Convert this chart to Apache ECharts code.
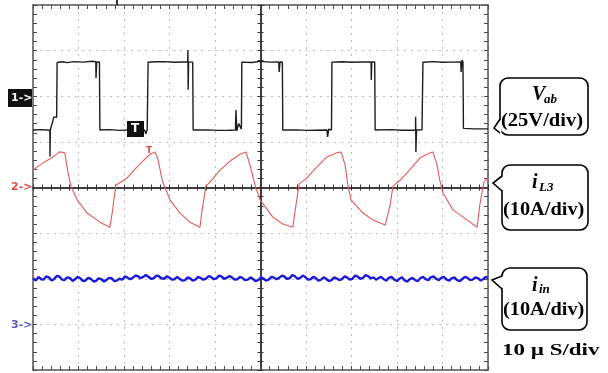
<!DOCTYPE html>
<html>
<head>
<meta charset="utf-8">
<style>
  html, body { margin: 0; padding: 0; background: #fff; }
  #chart { width: 608px; height: 373px; }
</style>
<script src="https://cdn.jsdelivr.net/npm/echarts@6/dist/echarts.min.js"></script>
</head>
<body>
<div id="chart"></div>
<script>
// time in us (10 us/div), channel values in physical units
// CH1 Vab [t, V]  (25 V/div, ground marker at +2 div)
var vab = [
  [0, -18.5], [2.0, -18.3], [3.7, -18.6], [3.75, -33.0], [3.8, -18.5], [4.6, -11.3], [5.2, -11.5],
  [5.3, 18.5], [6.5, 18.9], [7.5, 18.4], [9.0, 19.0], [11.0, 18.7], [13.0, 19.2], [13.8, 18.9],
  [13.85, 10.0], [14.0, 18.8], [14.6, 18.8],
  [14.7, -18.5], [17.0, -18.3], [19.0, -18.7], [21.0, -18.4], [24.5, -18.5], [24.8, -20.5], [25.1, -18.4],
  [25.3, 18.6], [27.0, 18.9], [29.0, 19.0], [31.0, 18.6], [33.0, 18.8], [34.0, 18.9],
  [34.05, 25.4], [34.1, 3.5], [34.2, 18.8], [35.1, 18.7],
  [35.2, -18.5], [38.0, -18.4], [41.0, -18.7], [43.0, -18.6], [44.5, -18.5],
  [44.6, -7.5], [44.8, -19.0], [45.2, -15.0], [45.8, -18.0],
  [45.9, 18.7], [48.0, 18.5], [50.0, 19.1], [52.0, 18.7], [54.0, 18.8],
  [54.1, 13.3], [54.3, 18.8], [54.8, 18.8],
  [54.9, -18.5], [58.0, -18.4], [60.0, -18.7], [62.0, -18.6], [64.6, -18.5], [64.75, -22.3], [65.0, -18.0], [65.6, -18.5],
  [65.7, 18.7], [68.0, 18.9], [70.0, 18.6], [72.0, 18.8], [74.3, 18.8],
  [74.35, 8.9], [74.45, 18.8], [75.1, 18.8],
  [75.2, -18.5], [79.0, -18.3], [81.0, -18.6], [83.0, -18.6], [84.07, -18.5], [84.1, -11.3], [84.15, -30.5], [84.3, -18.5], [85.5, -18.4],
  [85.7, 18.6], [88.0, 19.0], [90.0, 18.6], [92.0, 18.7], [94.0, 18.8],
  [94.1, 13.3], [94.3, 19.9], [94.5, 18.8],
  [94.6, -17.6], [97.0, -17.9], [100, -17.9]
];

// CH2 iL3 [t, A]  (10 A/div, ground marker at 0 div)
var iL3 = [
  [0, 3.8], [2.2, 5.4], [4.4, 6.7], [5.9, 7.8], [7.0, 7.6], [7.7, 3.2], [8.4, 0.1], [9.7, -2.7],
  [11.9, -5.6], [14.7, -7.6], [16.9, -8.7], [17.4, -5.6], [18.2, 0.5], [19.3, 1.2], [20.7, 2.1],
  [22.0, 3.6], [24.0, 5.6], [25.7, 7.3], [26.8, 7.8], [27.5, 6.0], [28.4, 1.6], [29.2, -0.5],
  [30.1, -2.7], [32.3, -5.6], [34.5, -7.6], [36.7, -8.7], [37.1, -5.4], [38.0, 0.3], [39.3, 1.6],
  [41.1, 3.8], [43.3, 5.8], [45.5, 7.3], [46.8, 7.8], [47.7, 4.9], [48.8, 0.5], [49.9, -2.7],
  [52.7, -6.5], [54.9, -8.0], [57.1, -8.7], [57.8, -3.8], [58.5, 0.8], [60.2, 2.1], [62.4, 4.5],
  [64.6, 6.7], [66.8, 7.6], [67.7, 7.8], [68.6, 4.9], [69.2, 0.5], [69.9, -2.7], [72.5, -5.6],
  [74.7, -7.1], [77.4, -8.2], [77.8, -8.4], [78.5, -3.8], [79.1, 0.3], [80.7, 1.6], [82.2, 3.2],
  [85.1, 6.5], [87.3, 7.6], [87.9, 7.8], [88.8, 4.9], [89.4, 1.6], [90.1, -1.2], [92.3, -4.9],
  [95.4, -7.1], [97.6, -8.7], [98.2, -3.8], [99.1, 1.2], [100, 2.1]
];

// CH3 iin [t, A]  (10 A/div, ground marker at -3 div)
var iin = [
  [0, 10.1], [0.6, 9.6], [1.2, 10.4], [1.8, 9.9], [2.3, 9.8], [2.9, 10.5], [3.5, 10.3], [4.1, 9.6],
  [4.6, 9.9], [5.2, 10.6], [5.8, 10.5], [6.4, 9.8], [6.9, 9.7], [7.5, 10.3], [8.1, 10.2], [8.7, 9.5],
  [9.2, 9.9], [9.8, 10.4], [10.4, 10.1], [11.0, 9.5], [11.5, 9.6], [12.1, 10.2], [12.7, 10.0],
  [13.3, 9.4], [13.8, 9.5], [14.4, 10.1], [15.0, 9.9], [15.6, 9.4], [16.1, 9.7], [16.7, 10.2],
  [17.3, 10.1], [17.9, 9.5], [18.4, 9.6], [19.0, 10.0], [19.6, 9.8], [20.2, 10.5], [20.7, 10.3],
  [21.3, 9.9], [21.9, 10.2], [22.5, 10.7], [23.0, 10.6], [23.6, 10.1], [24.2, 10.4], [24.8, 10.8],
  [25.3, 10.5], [25.9, 10.0], [26.5, 10.1], [27.1, 10.7], [27.6, 10.6], [28.2, 10.1], [28.8, 10.0],
  [29.4, 10.5], [29.9, 10.3], [30.5, 9.8], [31.1, 9.9], [31.7, 10.4], [32.2, 10.0], [32.8, 9.6],
  [33.4, 9.7], [34.0, 10.3], [34.5, 10.1], [35.1, 9.6], [35.7, 9.8], [36.3, 10.4], [36.8, 10.2],
  [37.4, 9.8], [38.0, 10.0], [38.6, 10.6], [39.1, 10.4], [39.7, 9.9], [40.3, 10.1], [40.9, 10.7],
  [41.4, 10.5], [42.0, 10.0], [42.6, 10.2], [43.2, 10.6], [43.7, 10.3], [44.3, 9.8], [44.9, 9.9],
  [45.5, 10.4], [46.0, 10.2], [46.6, 9.7], [47.2, 9.8], [47.8, 10.3], [48.3, 10.0], [48.9, 9.5],
  [49.5, 9.7], [50.1, 10.3], [50.6, 10.1], [51.2, 9.6], [51.8, 9.8], [52.4, 10.4], [52.9, 10.3],
  [53.5, 9.9], [54.1, 10.2], [54.7, 10.7], [55.2, 10.5], [55.8, 10.0], [56.4, 10.1], [57.0, 10.8],
  [57.5, 10.6], [58.1, 10.0], [58.7, 10.2], [59.3, 10.7], [59.8, 10.4], [60.4, 9.8], [61.0, 9.9],
  [61.6, 10.4], [62.1, 10.2], [62.7, 9.6], [63.3, 9.8], [63.9, 10.3], [64.4, 10.0], [65.0, 9.5],
  [65.6, 9.7], [66.2, 10.3], [66.7, 10.1], [67.3, 9.7], [67.9, 9.9], [68.5, 10.5], [69.0, 10.3],
  [69.6, 9.8], [70.2, 10.0], [70.8, 10.7], [71.3, 10.5], [71.9, 10.0], [72.5, 10.2], [73.1, 10.8],
  [73.6, 10.6], [74.2, 10.1], [74.8, 10.3], [75.4, 9.8], [75.9, 10.1], [76.5, 10.4], [77.1, 9.9],
  [77.7, 9.6], [78.2, 10.2], [78.8, 10.4], [79.4, 9.8], [80.0, 9.5], [80.5, 10.0], [81.1, 10.3],
  [81.7, 9.6], [82.3, 9.4], [82.8, 9.9], [83.4, 10.2], [84.0, 9.7], [84.6, 9.5], [85.1, 10.1],
  [85.7, 10.4], [86.3, 9.9], [86.9, 9.7], [87.4, 10.3], [88.0, 10.5], [88.6, 10.0], [89.2, 9.7],
  [89.7, 10.2], [90.3, 10.4], [90.9, 9.8], [91.5, 9.6], [92.0, 10.1], [92.6, 10.3], [93.2, 9.7],
  [93.8, 9.5], [94.3, 9.9], [94.9, 10.4], [95.5, 10.2], [96.1, 9.7], [96.6, 9.8], [97.2, 10.3],
  [97.8, 10.1], [98.4, 9.6], [98.9, 9.9], [99.5, 10.4], [100, 10.2]
];

var chart = echarts.init(document.getElementById('chart'))

var tickCol = '#4a4a4a'
var serif = '"Liberation Serif", "Times New Roman", serif'

function borderAxis(extra) {
  return Object.assign({
    type: 'value',
    axisLine: { show: true, onZero: false, lineStyle: { color: '#555', width: 1.5 } },
    axisTick: { show: true, inside: true, length: 4, lineStyle: { color: tickCol } },
    minorTick: { show: true, splitNumber: 5, length: 4, lineStyle: { color: tickCol } },
    axisLabel: { show: false },
    splitLine: { show: false }
  }, extra)
}
function centerAxis(extra, inside) {
  return Object.assign({
    type: 'value',
    axisLine: { show: true, onZero: true, lineStyle: { color: '#333', width: 1.5 } },
    axisTick: { show: true, inside: inside, length: 3, lineStyle: { color: '#333' } },
    minorTick: { show: true, splitNumber: 5, length: 3, lineStyle: { color: '#333' } },
    axisLabel: { show: false },
    splitLine: { show: false }
  }, extra)
}
var gridLine = { show: true, lineStyle: { color: '#bdbdbd', width: 1, type: [2, 5] } }

// rounded box + small pointer on its left side
function bubble(x, y, w, h, py1, tipX, tipY, py2) {
  return [
    {
      type: 'rect',
      shape: { x: x, y: y, width: w, height: h, r: 8 },
      style: { fill: '#fff', stroke: '#000', lineWidth: 1.6 },
      z: 10
    },
    {
      type: 'polygon',
      shape: { points: [[x + 1.5, py1], [tipX, tipY], [x + 1.5, py2]] },
      style: { fill: '#fff' },
      z: 11
    },
    {
      type: 'polyline',
      shape: { points: [[x, py1], [tipX, tipY], [x, py2]] },
      style: { stroke: '#000', lineWidth: 1.6, fill: null },
      z: 12
    }
  ]
}
function label(text, x, y, size, opts) {
  opts = opts || {}
  return {
    type: 'text',
    x: x, y: y,
    scaleX: opts.sx || 1,
    z: 13,
    style: {
      text: text,
      fontFamily: opts.family || serif,
      fontSize: size,
      fontWeight: 'bold',
      fontStyle: opts.italic ? 'italic' : 'normal',
      fill: opts.color || '#000',
      textAlign: 'left',
      textVerticalAlign: 'middle'
    }
  }
}

var graphics = [
  // channel markers
  { type: 'rect', shape: { x: 8, y: 89, width: 24, height: 18 }, style: { fill: '#111' }, z: 10 },
  label('1->', 11, 98, 11, { family: 'DejaVu Sans', color: '#fff' }),
  label('2->', 11, 187, 11, { family: 'DejaVu Sans', color: '#d94a4a' }),
  label('3->', 11, 325, 11, { family: 'DejaVu Sans', color: '#5b5bb8' }),
  // trigger marks
  { type: 'rect', shape: { x: 127, y: 121, width: 17, height: 16 }, style: { fill: '#111' }, z: 10 },
  label('T', 131, 129, 12, { family: 'DejaVu Sans', color: '#fff' }),
  label('T', 146, 151, 9, { family: 'DejaVu Sans', color: '#d94a4a' }),
  { type: 'rect', shape: { x: 116, y: 0, width: 2, height: 5 }, style: { fill: '#333' }, z: 10 }
]
  .concat(bubble(500, 78, 88, 57, 119, 494, 128, 133))
  .concat(bubble(502, 165, 86, 65, 176, 493, 183, 191))
  .concat(bubble(502, 268, 85, 62, 276, 492, 280, 289))
  .concat([
    label('V', 532, 95, 20, { italic: true }),
    label('ab', 544, 100, 13, { italic: true }),
    label('(25V/div)', 501, 121, 18, { sx: 1.14 }),
    label('i', 532, 183, 20, { italic: true }),
    label('L3', 539, 188, 13, { italic: true }),
    label('(10A/div)', 503, 210, 18, { sx: 1.13 }),
    label('i', 532, 286, 20, { italic: true }),
    label('in', 539, 290, 13, { italic: true }),
    label('(10A/div)', 503, 310, 18, { sx: 1.13 }),
    label('10 µ S/div', 502, 351, 17, { sx: 1.35 })
  ])

var option = {
  animation: false,
  backgroundColor: '#fff',
  grid: [0, 1, 2].map(function () {
    return { left: 33, top: 5, width: 455, height: 365, show: false }
  }),
  xAxis: [
    borderAxis({ gridIndex: 0, min: 0, max: 100, interval: 10, position: 'bottom', splitLine: gridLine }),
    borderAxis({ gridIndex: 0, min: 0, max: 100, interval: 10, position: 'top' }),
    centerAxis({ gridIndex: 1, min: -50, max: 50, interval: 10 }, true),
    centerAxis({ gridIndex: 2, min: -50, max: 50, interval: 10 }, false)
  ],
  yAxis: [
    borderAxis({ gridIndex: 0, min: -4, max: 4, interval: 1, position: 'left', splitLine: gridLine }),
    borderAxis({ gridIndex: 0, min: -4, max: 4, interval: 1, position: 'right' }),
    { gridIndex: 0, type: 'value', min: -150, max: 50, show: false },
    { gridIndex: 0, type: 'value', min: -40, max: 40, show: false },
    { gridIndex: 0, type: 'value', min: -10, max: 70, show: false },
    centerAxis({ gridIndex: 1, min: -4, max: 4, interval: 1 }, true),
    centerAxis({ gridIndex: 2, min: -4, max: 4, interval: 1 }, false)
  ],
  series: [
    {
      name: 'iin', type: 'line', xAxisIndex: 0, yAxisIndex: 4, data: iin,
      showSymbol: false, silent: true,
      lineStyle: { color: '#1c1cd6', width: 2.4 }, z: 3
    },
    {
      name: 'iL3', type: 'line', xAxisIndex: 0, yAxisIndex: 3, data: iL3,
      showSymbol: false, silent: true,
      lineStyle: { color: '#e35a5a', width: 1.1 }, z: 3
    },
    {
      name: 'Vab', type: 'line', xAxisIndex: 0, yAxisIndex: 2, data: vab,
      showSymbol: false, silent: true,
      lineStyle: { color: '#1e1e1e', width: 1.4 }, z: 4
    }
  ],
  graphic: graphics
}

chart.setOption(option)
</script>
</body>
</html>
